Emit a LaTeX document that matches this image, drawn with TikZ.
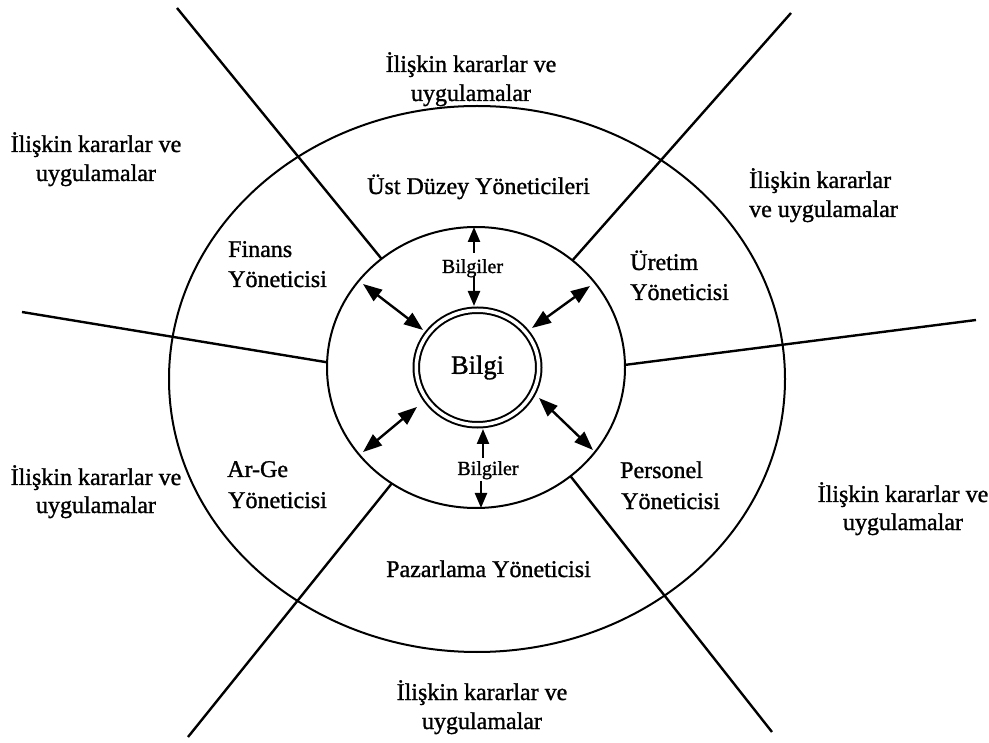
\documentclass[tikz,border=0pt]{standalone}
\usepackage{fontspec}
\setmainfont{Liberation Serif}
\newfontfamily\scanfont{Liberation Serif}[FakeBold=1.2]
\usetikzlibrary{shapes.geometric,arrows.meta}

\begin{document}
\begin{tikzpicture}[x=1pt,y=-1pt,
  ring/.style={draw, ellipse, line width=2pt, inner sep=0pt, outer sep=0pt},
  spoke/.style={line width=2.4pt},
  txt/.style={font=\scanfont\fontsize{24}{29}\selectfont, inner sep=0pt, anchor=base},
  txtl/.style={txt, anchor=base west},
  small/.style={font=\scanfont\fontsize{20}{24}\selectfont, inner sep=0pt, anchor=base},
  dbl/.style={line width=2.4pt, {Triangle[length=19pt,width=14pt]}-{Triangle[length=19pt,width=14pt]}},
  one/.style={line width=2.4pt, -{Triangle[length=15pt,width=12pt]}}
]
\useasboundingbox (0,0) rectangle (989,743);

% rings
\node[ring, minimum width=616pt, minimum height=546pt] (outer) at (477,379) {};
\node[ring, minimum width=298pt, minimum height=281pt] (inner) at (476,367.5) {};
\node[ring, double, double distance=3.5pt, minimum width=122.5pt, minimum height=114.5pt,
      font=\scanfont\fontsize{26.5}{30}\selectfont] (bilgi) at (477.5,367.5) {Bilgi};

% spokes between the sectors
\coordinate (s1) at (177,8);
\coordinate (s2) at (791,13);
\coordinate (s3) at (22,312);
\coordinate (s4) at (976,320);
\coordinate (s5) at (188,737);
\coordinate (s6) at (772,732);
\draw[spoke] (s1) -- (inner.131);
\draw[spoke] (s2) -- (inner.48);
\draw[spoke] (s3) -- (inner.178);
\draw[spoke] (s4) -- (inner.1);
\draw[spoke] (s5) -- (inner.234);
\draw[spoke] (s6) -- (inner.311);

% outer labels
\node[txt] (t1) at (471,72) {İlişkin kararlar ve};
\node[txt] (t2) at (471,101) {uygulamalar};
\node[txt] (ul1) at (96,152) {İlişkin kararlar ve};
\node[txt] (ul2) at (96,181) {uygulamalar};
\node[txtl] (ur1) at (749,188) {İlişkin kararlar};
\node[txtl] (ur2) at (749,217) {ve uygulamalar};
\node[txt] (lm1) at (96,485) {İlişkin kararlar ve};
\node[txt] (lm2) at (96,513) {uygulamalar};
\node[txt] (rm1) at (903,502) {İlişkin kararlar ve};
\node[txt] (rm2) at (903,530) {uygulamalar};
\node[txt] (b1) at (482,700) {İlişkin kararlar ve};
\node[txt] (b2) at (482,729) {uygulamalar};

% managers
\node[txt] (ust) at (478.5,194) {Üst Düzey Yöneticileri};
\node[txtl] (fin1) at (228,257) {Finans};
\node[txtl] (fin2) at (228,287) {Yöneticisi};
\node[txtl] (ure1) at (630,270) {Üretim};
\node[txtl] (ure2) at (630,300) {Yöneticisi};
\node[txtl] (arge1) at (227,477) {Ar-Ge};
\node[txtl] (arge2) at (228,508) {Yöneticisi};
\node[txtl] (per1) at (620,478) {Personel};
\node[txtl] (per2) at (621,509) {Yöneticisi};
\node[txt] (paz) at (488.5,577) {Pazarlama Yöneticisi};

% information flows
\node[small] (bu) at (472.5,273) {Bilgiler};
\node[small] (bd) at (488,475) {Bilgiler};
\coordinate (u1) at (474,253); \coordinate (u1t) at (474,227);
\coordinate (u2) at (474,276); \coordinate (u2t) at (474,306);
\coordinate (d1) at (483,458); \coordinate (d1t) at (483,429);
\coordinate (d2) at (481,481); \coordinate (d2t) at (481,508);
\draw[one] (u1) -- (u1t);
\draw[one] (u2) -- (u2t);
\draw[one] (d1) -- (d1t);
\draw[one] (d2) -- (d2t);

\coordinate (ula) at (363,284); \coordinate (ulb) at (423,330);
\coordinate (ura) at (590,286); \coordinate (urb) at (532,328);
\coordinate (lla) at (363,452); \coordinate (llb) at (417,407);
\coordinate (lra) at (593,450); \coordinate (lrb) at (539,398);
\draw[dbl] (ula) -- (ulb);
\draw[dbl] (ura) -- (urb);
\draw[dbl] (lla) -- (llb);
\draw[dbl] (lra) -- (lrb);
\end{tikzpicture}
\end{document}
